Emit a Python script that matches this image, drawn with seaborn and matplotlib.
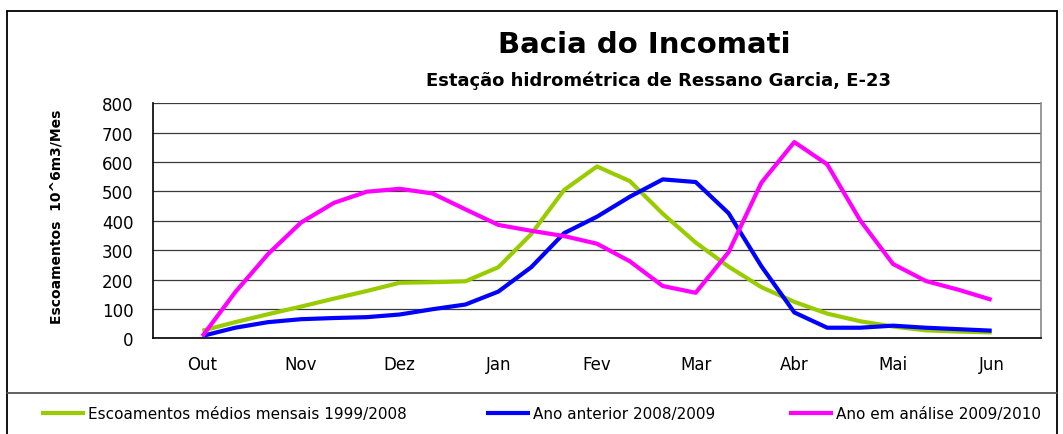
import numpy as np
import pandas as pd
import seaborn as sns
import matplotlib
matplotlib.use("Agg")
import matplotlib.pyplot as plt
from matplotlib.lines import Line2D

# months on the axis, values read every third of a month (Out .. Jun)
meses = ['Out', 'Nov', 'Dez', 'Jan', 'Fev', 'Mar', 'Abr', 'Mai', 'Jun']
media_1999_2008 = [26, 55, 82, 108, 135, 161, 189, 191, 194, 242, 355, 505, 585,
                   535, 424, 326, 244, 174, 124, 84, 58, 40, 27, 23, 20]
ano_2008_2009 = [8, 36, 55, 65, 69, 72, 81, 99, 115, 159, 242, 358, 414,
                 482, 541, 532, 426, 245, 88, 36, 36, 43, 36, 31, 26]
ano_2009_2010 = [7, 157, 287, 394, 461, 499, 509, 493, 439, 386, 366, 348, 322,
                 262, 178, 155, 293, 530, 668, 592, 402, 253, 195, 165, 131]

series = ['Escoamentos médios mensais 1999/2008', 'Ano anterior 2008/2009',
          'Ano em análise 2009/2010']
cores = ['#99CC00', '#0000FF', '#FF00FF']

t = np.arange(len(media_1999_2008)) / 3.0
df = pd.DataFrame({
    'mes': np.concatenate([t, t, t]),
    'valor': media_1999_2008 + ano_2008_2009 + ano_2009_2010,
    'serie': [series[0]] * len(t) + [series[1]] * len(t) + [series[2]] * len(t),
})

sns.set_style('white')
plt.rcParams['font.family'] = ['DejaVu Sans']
plt.rcParams['text.color'] = 'black'
plt.rcParams['xtick.color'] = 'black'
plt.rcParams['ytick.color'] = 'black'
plt.rcParams['xtick.labelcolor'] = 'black'
plt.rcParams['ytick.labelcolor'] = 'black'

W, H = 1063, 435
fig = plt.figure(figsize=(W / 100, H / 100), dpi=100)
ax = fig.add_axes([153 / W, 1 - 339.3 / H, (1041 - 153) / W, (339.3 - 104.3) / H])

sns.lineplot(data=df, x='mes', y='valor', hue='serie', hue_order=series,
             palette=cores, linewidth=3, ax=ax, zorder=3,
             solid_joinstyle='round', solid_capstyle='butt')
handles, labels = ax.get_legend_handles_labels()
ax.get_legend().remove()

ax.set_xlim(-0.5, 8.5)
ax.set_ylim(0, 800)
ax.set_xticks(range(len(meses)))
ax.set_xticklabels(meses)
ax.set_xticks(np.arange(-0.5, 9, 1), minor=True)
ax.set_yticks(range(0, 801, 100))
ax.tick_params(axis='x', which='major', length=0, pad=12, labelsize=12)
ax.tick_params(axis='x', which='minor', length=5, direction='out', width=1, color='black')
ax.tick_params(axis='y', length=5, direction='out', width=1, color='black', pad=9, labelsize=12)
ax.set_xlabel('')
ax.set_ylabel('')
ax.yaxis.grid(True, color='#3a3a3a', lw=0.9)
ax.set_axisbelow(True)
for s in ['left', 'bottom']:
    ax.spines[s].set_color('black')
    ax.spines[s].set_linewidth(1.2)
ax.spines['top'].set_visible(False)
ax.spines['right'].set_color('#888888')
ax.spines['right'].set_linewidth(1.2)

fig.text(644 / W, 1 - 45 / H, 'Bacia do Incomati', ha='center', va='center',
         fontsize=21, fontweight='bold')
fig.text(658 / W, 1 - 81 / H, 'Estação hidrométrica de Ressano Garcia, E-23',
         ha='center', va='center', fontsize=13, fontweight='bold')
fig.text(57 / W, 1 - 216.5 / H, 'Escoamentos  10^6m3/Mes', rotation=90,
         ha='center', va='center', fontsize=10, fontweight='bold')

# legend entries at the bottom
for h, lab, x0 in zip(handles, labels, [41, 486, 789]):
    fig.legend([h], [lab], loc='center left', bbox_to_anchor=(x0 / W, 1 - 415 / H),
               frameon=False, borderpad=0, borderaxespad=0, handlelength=2.9,
               handletextpad=0.15, fontsize=11)

# outer frame and separator above the legend
xl, xr, yt = 7 / W, 1057 / W, 1 - 12 / H
fig.add_artist(Line2D([xl, xl], [yt, 0], transform=fig.transFigure, color='black', lw=1.3))
fig.add_artist(Line2D([xr, xr], [yt, 0], transform=fig.transFigure, color='black', lw=1.3))
fig.add_artist(Line2D([xl, xr], [yt, yt], transform=fig.transFigure, color='black', lw=1.3))
fig.add_artist(Line2D([xl, xr], [1 - 394 / H, 1 - 394 / H], transform=fig.transFigure,
                      color='#555555', lw=1.3))

fig.savefig('out.png', dpi=100)
